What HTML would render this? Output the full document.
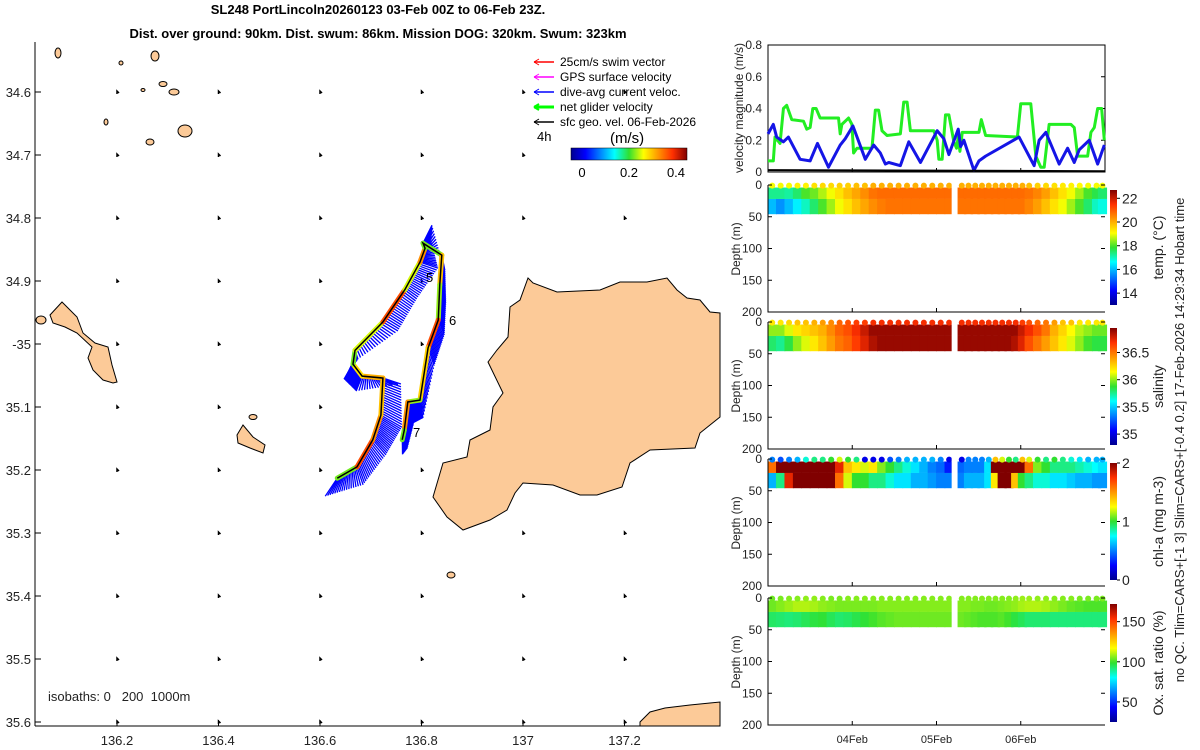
<!DOCTYPE html>
<html><head><meta charset="utf-8">
<style>
body{margin:0;background:#fff;}
svg{display:block;font-family:"Liberation Sans",sans-serif;}
</style></head>
<body>
<svg id="root" width="1200" height="750" viewBox="0 0 1200 750" xmlns="http://www.w3.org/2000/svg">
<defs>
<linearGradient id="jetH" x1="0" y1="0" x2="1" y2="0">
<stop offset="0" stop-color="#00008f"/><stop offset="0.125" stop-color="#0000ff"/><stop offset="0.375" stop-color="#00ffff"/><stop offset="0.5" stop-color="#30e030"/><stop offset="0.625" stop-color="#ffff00"/><stop offset="0.875" stop-color="#ff3000"/><stop offset="1" stop-color="#800000"/></linearGradient>
<linearGradient id="jetV" x1="0" y1="1" x2="0" y2="0">
<stop offset="0" stop-color="#00008f"/><stop offset="0.125" stop-color="#0000ff"/><stop offset="0.375" stop-color="#00ffff"/><stop offset="0.5" stop-color="#30e030"/><stop offset="0.625" stop-color="#ffff00"/><stop offset="0.875" stop-color="#ff3000"/><stop offset="1" stop-color="#800000"/></linearGradient>
</defs>
<text x="378" y="14" text-anchor="middle" font-size="13" font-weight="bold">SL248 PortLincoln20260123 03-Feb 00Z to 06-Feb 23Z.</text>
<text x="378" y="38" text-anchor="middle" font-size="13" font-weight="bold">Dist. over ground: 90km. Dist. swum: 86km. Mission DOG: 320km. Swum: 323km</text>
<g id="map">
<g fill="#fcca98" stroke="#000" stroke-width="1">
<polygon points="528,278 533,283 557,292 600,290 620,282 647,282 667,278 677,290 687,298 700,300 710,312 720,313 720,417 700,433 695,448 650,450 630,463 622,487 597,495 580,495 553,485 523,483 515,493 507,510 490,520 463,530 447,517 433,497 443,463 467,457 470,440 490,430 493,407 503,393 488,362 497,350 508,337 510,307 520,300"/>
<polygon points="50,315 62,302 67,307 77,317 83,333 95,343 108,347 112,365 117,382 113,383 103,380 93,370 88,358 92,347 77,333 65,327 53,323"/>
<polygon points="237,435 243,425 253,437 265,445 263,453 250,448 238,443"/>
<polygon points="640,722 650,712 665,708 690,705 710,703 720,702 720,726 640,726"/>
<ellipse cx="41" cy="320" rx="5" ry="4"/>
<ellipse cx="185" cy="131" rx="7" ry="6"/>
<ellipse cx="150" cy="142" rx="4" ry="3"/>
<ellipse cx="58" cy="53" rx="3" ry="5"/>
<ellipse cx="155" cy="56" rx="4" ry="5"/>
<ellipse cx="174" cy="92" rx="5" ry="3"/>
<ellipse cx="163" cy="84" rx="4" ry="2.5"/>
<ellipse cx="121" cy="63" rx="2" ry="2"/>
<ellipse cx="253" cy="417" rx="4" ry="2.5"/>
<ellipse cx="451" cy="575" rx="4" ry="3"/>
<ellipse cx="143" cy="90" rx="2" ry="1.5"/>
<ellipse cx="106" cy="122" rx="2" ry="3"/>
</g>
<g id="isodots"></g>
<line x1="35" y1="42" x2="35" y2="726" stroke="#000"/>
<line x1="35" y1="726" x2="720" y2="726" stroke="#000"/>
<g id="mapticks" font-size="13" fill="#222"></g>
<g id="track"></g>
<text x="426" y="282" font-size="13">5</text>
<text x="449" y="325" font-size="13">6</text>
<text x="413" y="437" font-size="13">7</text>
<text x="48" y="701" font-size="13" fill="#222" xml:space="preserve">isobaths: 0   200  1000m</text>
<g id="legend" font-size="12">
<g><line x1="534" y1="62" x2="554" y2="62" stroke="#f00" stroke-width="1.5"/><path d="M534 62 l5 -3 M534 62 l5 3" stroke="#f00"/><text x="560" y="66">25cm/s swim vector</text></g>
<g><line x1="534" y1="77" x2="554" y2="77" stroke="#f0f" stroke-width="1.5"/><path d="M534 77 l5 -3 M534 77 l5 3" stroke="#f0f"/><text x="560" y="81">GPS surface velocity</text></g>
<g><line x1="534" y1="92" x2="554" y2="92" stroke="#00f" stroke-width="1.5"/><path d="M534 92 l5 -3 M534 92 l5 3" stroke="#00f"/><text x="560" y="96">dive-avg current veloc.</text></g>
<g><line x1="534" y1="107" x2="554" y2="107" stroke="#0f0" stroke-width="3"/><path d="M534 107 l5 -3 M534 107 l5 3" stroke="#0f0" stroke-width="2"/><text x="560" y="111">net glider velocity</text></g>
<g><line x1="534" y1="122" x2="554" y2="122" stroke="#000" stroke-width="1.5"/><path d="M534 122 l5 -3 M534 122 l5 3" stroke="#000"/><text x="560" y="126">sfc geo. vel. 06-Feb-2026</text></g>
<text x="537" y="141" font-size="13">4h</text>
<text x="610" y="143" font-size="15">(m/s)</text>
<rect x="571" y="148" width="116" height="12" fill="url(#jetH)" stroke="#000" stroke-width="0.5"/>
<text x="582" y="177" font-size="13" text-anchor="middle">0</text>
<text x="629" y="177" font-size="13" text-anchor="middle">0.2</text>
<text x="676" y="177" font-size="13" text-anchor="middle">0.4</text>
</g>
</g>
<g id="right"></g>
<text transform="translate(1184,440) rotate(-90)" text-anchor="middle" font-size="13" fill="#222">no QC. Tlim=CARS+[-1 3] Slim=CARS+[-0.4 0.2] 17-Feb-2026 14:29:34 Hobart time</text>
</svg>
<script>
// ===== velocity time series (days since 03-Feb 00Z, m/s) =====
const netT=[0,.063,.083,.143,.183,.222,.282,.421,.46,.5,.532,.571,.619,.837,.857,.877,.956,.996,1.016,1.056,1.234,1.274,1.313,1.353,1.413,1.571,1.611,1.651,1.69,1.968,2.008,2.028,2.067,2.107,2.147,2.206,2.238,2.258,2.278,2.306,2.504,2.532,2.583,2.96,3.0,3.119,3.179,3.238,3.278,3.337,3.595,3.635,3.675,3.794,3.833,3.873,3.913,3.96,3.992];
const netV=[.07,.07,.22,.18,.40,.42,.33,.32,.27,.28,.40,.40,.34,.34,.24,.30,.34,.30,.12,.15,.15,.39,.39,.26,.23,.24,.44,.44,.26,.26,.20,.08,.08,.36,.36,.19,.15,.22,.13,.25,.25,.33,.23,.22,.43,.43,.10,.03,.03,.30,.30,.28,.10,.10,.25,.28,.40,.40,.20];
const curT=[0,.063,.103,.183,.242,.381,.5,.587,.718,.857,.917,1.008,1.155,1.254,1.333,1.393,1.433,1.571,1.671,1.81,2.008,2.087,2.147,2.258,2.286,2.325,2.444,2.504,2.583,2.98,3.159,3.218,3.298,3.456,3.556,3.635,3.694,3.813,3.913,3.992];
const curV=[.24,.30,.22,.19,.22,.08,.07,.18,.03,.17,.21,.29,.08,.17,.12,.05,.06,.04,.19,.06,.26,.21,.11,.27,.16,.20,.01,.07,.10,.22,.04,.20,.25,.05,.15,.06,.14,.20,.05,.17];
const geoT=[0,4];
const geoV=[.012,.005];
const velTicks=[0,0.2,0.4,0.6,0.8];
const dateTicks=[1,2,3];
const dateLabels=["04Feb","05Feb","06Feb"];
// ===== section data: profiles =====
const profT=[0.05,0.15,0.25,0.35,0.45,0.55,0.65,0.75,0.85,0.95,1.05,1.15,1.25,1.35,1.45,1.55,1.65,1.75,1.85,1.95,2.05,2.15,2.3,2.38,2.46,2.54,2.62,2.7,2.78,2.86,2.94,3.02,3.1,3.2,3.3,3.4,3.5,3.6,3.7,3.8,3.9,3.97];
const tempSurf=[19,19,19,19.2,19.2,19.4,19.5,19.5,19.6,19.6,19.8,19.8,20,20,20,20,20,20,20,20,20,20,20,20,20,20,20,20,20,20,20,20,19.8,19.6,19.5,19.4,19.3,19.2,19.1,19,19,19];
const tempTop=[17.3,17.3,17.2,17.5,18,18.2,18.6,19,19.4,19.8,20.1,20.4,20.7,20.8,20.8,20.8,20.8,20.8,20.8,20.8,20.8,20.8,20.8,20.8,20.8,20.8,20.8,20.8,20.8,20.8,20.8,20.8,20.7,20.5,20.2,19.8,19.4,19,18.5,18,17.7,17.5];
const tempBot=[16,15.6,16,16.5,17,17.5,18,18.5,19,19.4,19.8,20.1,20.4,20.6,20.7,20.7,20.7,20.7,20.7,20.7,20.7,20.7,20.7,20.7,20.7,20.7,20.7,20.7,20.7,20.7,20.7,20.7,20.5,20.2,19.8,19.4,19,18.5,18,17.5,17,16.8];
const salSurf=[36.2,36.2,36.25,36.3,36.3,36.35,36.4,36.45,36.55,36.6,36.65,36.65,36.7,36.7,36.7,36.7,36.7,36.7,36.7,36.7,36.7,36.7,36.7,36.7,36.7,36.7,36.7,36.7,36.7,36.7,36.7,36.65,36.6,36.55,36.5,36.4,36.3,36.3,36.2,36.2,36.2,36.2];
const salTop=[36.0,36.0,36.1,36.2,36.25,36.3,36.35,36.45,36.55,36.6,36.7,36.8,36.9,36.9,36.9,36.9,36.9,36.9,36.9,36.9,36.9,36.9,36.9,36.9,36.9,36.9,36.9,36.9,36.9,36.9,36.9,36.8,36.7,36.6,36.5,36.35,36.25,36.15,36.05,36.0,35.95,35.95];
const salBot=[35.8,35.75,35.85,36.0,36.1,36.2,36.3,36.4,36.5,36.55,36.65,36.75,36.85,36.9,36.9,36.9,36.9,36.9,36.9,36.9,36.9,36.9,36.9,36.9,36.9,36.9,36.9,36.9,36.9,36.9,36.85,36.75,36.6,36.5,36.4,36.3,36.2,36.1,36.0,35.9,35.85,35.85];
const chlSurf=[0.5,0.4,0.5,0.6,0.8,0.9,0.9,1.0,1.2,1.0,0.9,0.2,0.2,0.2,0.4,0.5,0.6,0.6,0.6,0.6,0.5,0.2,0.2,0.5,0.5,0.5,0.6,1.4,1.2,1.0,0.9,1.4,1.2,1.0,0.9,1.0,0.9,0.8,0.7,0.6,0.6,0.6];
const chlTop=[1.6,2,2,2,2,2,2,2,1.8,1.4,1.3,1.2,1.3,1.1,1.0,0.9,0.8,0.7,0.6,0.5,0.45,0.3,0.45,0.5,0.5,0.5,0.7,2,2,2,2,2,1.6,1.1,1.0,0.9,0.9,0.9,0.85,0.8,0.75,0.7];
const chlBot=[0.6,0.9,1.8,2,2,2,2,2,1.6,1.2,1.0,1.0,0.9,0.9,0.8,0.7,0.7,0.6,0.6,0.55,0.5,0.5,0.5,0.6,0.6,0.6,0.7,1.3,2,2,1.4,1.0,0.9,0.8,0.8,0.7,0.7,0.65,0.6,0.6,0.55,0.55];
const oxSurf=[104,105,106,106,107,107,106,105,105,106,106,106,106,106,106,106,106,106,106,106,106,106,106,106,106,106,106,106,106,106,107,108,108,107,107,106,106,106,105,105,105,105];
const oxTop=[104,106,108,110,110,109,107,106,105,105,105,105,105,106,106,106,106,106,106,106,106,106,106,106,105,105,104,104,105,106,107,109,110,110,109,107,105,103,102,101,101,101];
const oxBot=[94,93,92,93,95,97,98,95,93,94,96,98,100,102,103,104,104,104,104,104,104,104,104,103,102,101,101,101,102,100,97,95,93,93,93,92,92,92,92,92,92,92];
const gapStart=2.18, gapEnd=2.25;
const depthTicks=[0,50,100,150,200];
// ===== map track (lon, positive lat) =====
const trkLon=[136.634,136.673,136.704,136.720,136.724,136.683,136.665,136.669,136.724,136.767,136.797,136.807,136.803,136.840,136.836,136.833,136.813,136.797,136.773,136.766,136.762];
const trkLat=[35.213,35.195,35.152,35.113,35.054,35.051,35.032,35.010,34.965,34.914,34.870,34.848,34.840,34.859,34.906,34.962,35.006,35.089,35.092,35.137,35.152];
const trkSpd=[0.27,0.42,0.38,0.35,0.36,0.33,0.27,0.3,0.42,0.3,0.38,0.27,0.27,0.35,0.28,0.42,0.34,0.28,0.38,0.27,0.27];
const curU=[-0.2,0.1,0.22,0.35,0.3,-0.1,-0.15,0.05,0.25,0.2,0.3,0.1,0.15,0.05,0.1,0.1,0.1,0.05,0.1,0.05,0.0];
const curVv=[-0.3,-0.3,-0.25,-0.2,-0.1,-0.25,-0.25,-0.15,-0.15,-0.15,-0.1,0.15,0.3,-0.25,-0.3,-0.25,-0.3,-0.3,-0.35,-0.3,-0.25];
const lonTicks=[136.2,136.4,136.6,136.8,137,137.2];
const latTicks=[34.6,34.7,34.8,34.9,35,35.1,35.2,35.3,35.4,35.5,35.6];

const NS="http://www.w3.org/2000/svg";
function mk(tag,attrs,parent){const e=document.createElementNS(NS,tag);for(const k in attrs)e.setAttribute(k,attrs[k]);parent.appendChild(e);return e;}
function jet(v){v=Math.max(0,Math.min(1,v));
 const st=[[0,0,0,143],[0.125,0,0,255],[0.375,0,255,255],[0.5,48,224,48],[0.625,255,255,0],[0.875,255,48,0],[1,128,0,0]];
 for(let i=1;i<st.length;i++){if(v<=st[i][0]){const a=st[i-1],b=st[i],f=(v-a[0])/(b[0]-a[0]);
 return `rgb(${Math.round(a[1]+f*(b[1]-a[1]))},${Math.round(a[2]+f*(b[2]-a[2]))},${Math.round(a[3]+f*(b[3]-a[3]))})`;}}return "rgb(128,0,0)";}

// map axes
const lonX=l=>117+(l-136.2)*507.5, latY=l=>92+(l-34.6)*630;
const mt=document.getElementById('mapticks');
lonTicks.forEach(l=>{const x=lonX(l);
 const tk=mk('line',{x1:x,y1:726,x2:x,y2:720,stroke:'#000'},mt);
 
 
 const t=mk('text',{x:x,y:745,'text-anchor':'middle'},mt);t.textContent=String(l);
 
 });
latTicks.forEach(l=>{const y=latY(l);
 const tk=mk('line',{x1:35,y1:y,x2:41,y2:y,stroke:'#000'},mt);
 
 
 const t=mk('text',{x:31,y:y+5,'text-anchor':'end'},mt);t.textContent=(l===35?'-35':l.toFixed(1));
 
 });
const iso=document.getElementById('isodots');
lonTicks.forEach(lo=>latTicks.forEach(la=>{const x=lonX(lo),y=latY(la);
 if(x>500&&y>280&&y<520)return;
 const p=mk('path',{d:`M${x} ${y+2} l0 -3 l2 2`,stroke:'#000','stroke-width':1.5,fill:'none'},iso);
 
 }));

// track
const tg=document.getElementById('track');
const n=trkLon.length;
for(let i=0;i<n-1;i++){for(let s=0;s<16;s++){const f=s/16;
 const lo=trkLon[i]+f*(trkLon[i+1]-trkLon[i]), la=trkLat[i]+f*(trkLat[i+1]-trkLat[i]);
 const u=curU[i]+f*(curU[i+1]-curU[i]), v=curVv[i]+f*(curVv[i+1]-curVv[i]);
 const x=lonX(lo),y=latY(la);
 const ln=mk('line',{x1:x,y1:y,x2:x+u*60,y2:y-v*60,stroke:'#0000ff','stroke-width':1.3},tg);
 
 }}
for(let i=0;i<n-1;i++){
 const ln=mk('line',{x1:lonX(trkLon[i]),y1:latY(trkLat[i]),x2:lonX(trkLon[i+1]),y2:latY(trkLat[i+1]),stroke:jet(trkSpd[i]/0.5),'stroke-width':5,'stroke-linecap':'round'},tg);
 
 }
const pl=mk('polyline',{points:trkLon.map((l,i)=>lonX(l)+','+latY(trkLat[i])).join(' '),fill:'none',stroke:'#000','stroke-width':1.5},tg);



// right panels
const R=document.getElementById('right');
const X0=768,X1=1105,xT=t=>X0+t*(X1-X0)/4;
function txt(x,y,s,attrs,name){const t=mk('text',Object.assign({x:x,y:y,'font-size':12,fill:'#222'},attrs||{}),R);t.textContent=s;
 
 return t;}
const vy=v=>172-v*(172-45)/0.8;
const vb=mk('rect',{x:X0,y:45,width:X1-X0,height:127,fill:'none',stroke:'#000'},R);


velTicks.forEach(v=>{txt(762,vy(v)+4,String(v),{'text-anchor':'end','font-size':12},'velocity-tick-label');
 const a=mk('line',{x1:X1-4,y1:vy(v),x2:X1,y2:vy(v),stroke:'#000'},R);
 
 });
txt(0,0,'velocity magnitude (m/s)',{transform:`translate(743,${108}) rotate(-90)`,'text-anchor':'middle','font-size':12},'velocity-y-title');
const g1=mk('polyline',{points:netT.map((t,i)=>xT(t)+','+vy(netV[i])).join(' '),fill:'none',stroke:'#22ee22','stroke-width':3,'stroke-linejoin':'round'},R);


const b1=mk('polyline',{points:curT.map((t,i)=>xT(t)+','+vy(curV[i])).join(' '),fill:'none',stroke:'#1515e6','stroke-width':3,'stroke-linejoin':'round'},R);


const k1=mk('polyline',{points:geoT.map((t,i)=>xT(t)+','+vy(geoV[i])).join(' '),fill:'none',stroke:'#000','stroke-width':2},R);



const panels=[
 {y0:185,name:'temperature',surf:tempSurf,top:tempTop,bot:tempBot,min:13,max:22.7,cb:[190,305],ticks:[14,16,18,20,22],tl:['14','16','18','20','22'],label:'temp. (°C)'},
 {y0:322,name:'salinity',surf:salSurf,top:salTop,bot:salBot,min:34.8,max:36.95,cb:[328,445],ticks:[35,35.5,36,36.5],tl:['35','35.5','36','36.5'],label:'salinity'},
 {y0:459,name:'chlorophyll',surf:chlSurf,top:chlTop,bot:chlBot,min:0,max:2,cb:[463,580],ticks:[0,1,2],tl:['0','1','2'],label:'chl-a (mg m-3)'},
 {y0:598,name:'oxygen',surf:oxSurf,top:oxTop,bot:oxBot,min:25,max:172,cb:[604,722],ticks:[50,100,150],tl:['50','100','150'],label:'Ox. sat. ratio (%)'}];
const H=127;
panels.forEach((p,pi)=>{
 const dy=d=>p.y0+d*H/200;
 const col=v=>jet((v-p.min)/(p.max-p.min));
 profT.forEach((t,i)=>{
  const x=xT(t)-4.6;
  const c1=mk('rect',{x:x,y:dy(4),width:9.2,height:dy(22)-dy(4),fill:col(p.top[i])},R);
  
  
  const c2=mk('rect',{x:x,y:dy(22),width:9.2,height:dy(46)-dy(22),fill:col(p.bot[i])},R);
  
  
  const dt=mk('circle',{cx:xT(t),cy:dy(1),r:3,fill:col(p.surf[i])},R);
  
  
 });
 const gp=mk('rect',{x:xT(gapStart),y:p.y0-3,width:xT(gapEnd)-xT(gapStart),height:dy(50)-p.y0+3,fill:'#fff'},R);
 
 
 const ax=mk('path',{d:`M${X0} ${p.y0} L${X0} ${p.y0+H} L${X1} ${p.y0+H}`,fill:'none',stroke:'#000'},R);
 
 
 depthTicks.forEach(d=>{txt(762,dy(d)+4,String(d),{'text-anchor':'end'},'depth-tick-label');
  const a=mk('line',{x1:X0,y1:dy(d),x2:X0+4,y2:dy(d),stroke:'#000'},R);
  
  
  const b=mk('line',{x1:X1-4,y1:dy(d),x2:X1,y2:dy(d),stroke:'#000'},R);
  
  });
 dateTicks.forEach(t=>{const a=mk('line',{x1:xT(t),y1:p.y0+H,x2:xT(t),y2:p.y0+H-4,stroke:'#000'},R);
  
  });
 txt(0,0,'Depth (m)',{transform:`translate(740,${p.y0+64}) rotate(-90)`,'text-anchor':'middle'},'depth-axis-title');
 const cb=mk('rect',{x:1110,y:p.cb[0],width:7,height:p.cb[1]-p.cb[0],fill:'url(#jetV)'},R);
 
 
 const cy=v=>p.cb[1]-(v-p.min)/(p.max-p.min)*(p.cb[1]-p.cb[0]);
 p.ticks.forEach((v,j)=>{const a=mk('line',{x1:1117,y1:cy(v),x2:1120,y2:cy(v),stroke:'#000'},R);
  
  
  txt(1122,cy(v)+5,p.tl[j],{'font-size':14},'colorbar-tick-label');});
 txt(0,0,p.label,{transform:`translate(1163,${(p.cb[0]+p.cb[1])/2}) rotate(-90)`,'text-anchor':'middle','font-size':14},p.name+'-colorbar-title');
});
dateTicks.forEach((t,i)=>{const a=mk('line',{x1:xT(t),y1:172,x2:xT(t),y2:168,stroke:'#000'},R);
 
 
 txt(xT(t),743,dateLabels[i],{'text-anchor':'middle','font-size':11},'date-tick-label');});
</script>
</body></html>
